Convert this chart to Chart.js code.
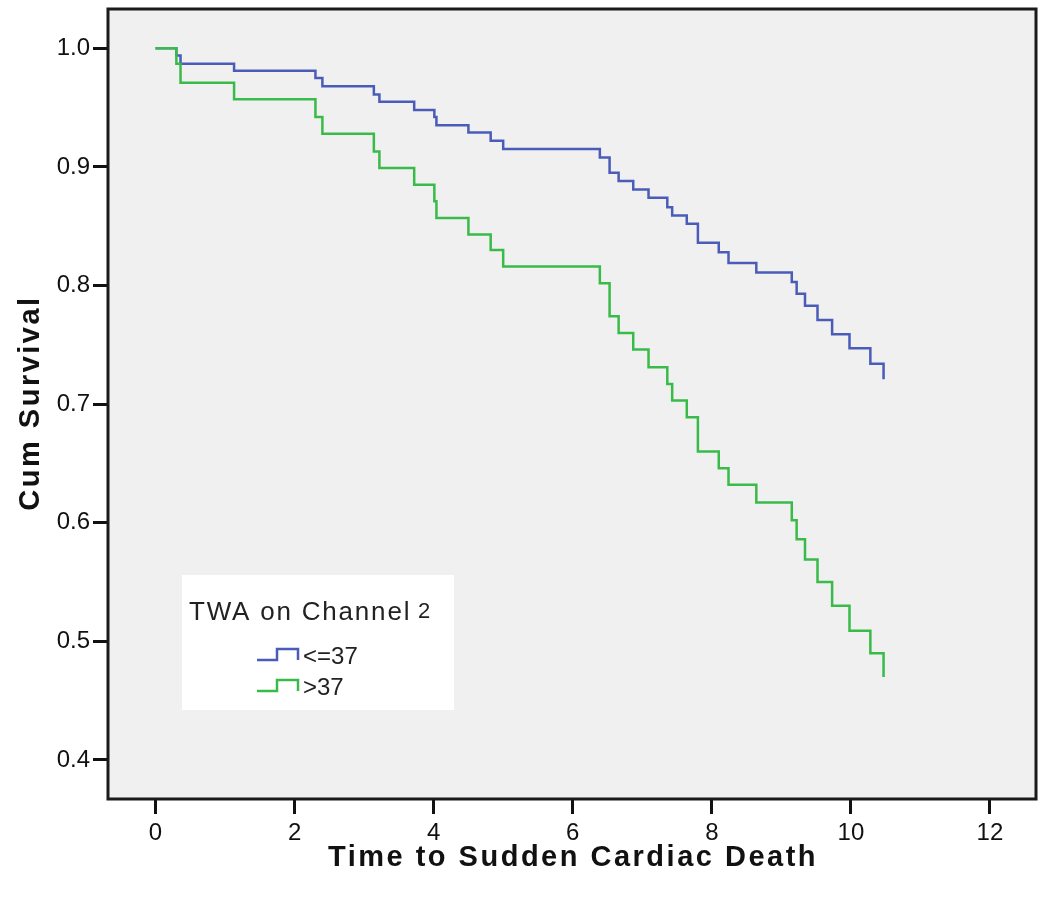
<!DOCTYPE html>
<html>
<head>
<meta charset="utf-8">
<script src="https://cdn.jsdelivr.net/npm/chart.js@4.4.1/dist/chart.umd.min.js"></script>
<style>
  body { margin: 0; background: #fff; }
  canvas { display: block; }
</style>
</head>
<body>
<canvas id="kmChart" width="1050" height="912"></canvas>
<script>
// event times (years) - both groups step at the same times
const times = [0, 0.30, 0.36, 1.13, 2.30, 2.40, 3.14, 3.22, 3.72, 4.01, 4.04, 4.50, 4.82, 5.00,
  6.39, 6.53, 6.66, 6.87, 7.09, 7.36, 7.43, 7.64, 7.80, 8.10, 8.24, 8.64, 9.15, 9.22, 9.34,
  9.52, 9.73, 9.98, 10.28, 10.47];

// cum survival, TWA <=37
const survLow = [1.0, 0.994, 0.987, 0.981, 0.975, 0.968, 0.961, 0.955, 0.948, 0.942, 0.935, 0.929, 0.922, 0.915,
  0.908, 0.895, 0.888, 0.881, 0.874, 0.866, 0.859, 0.852, 0.836, 0.828, 0.819, 0.811, 0.803, 0.793, 0.783,
  0.771, 0.759, 0.747, 0.734, 0.721];

// cum survival, TWA >37
const survHigh = [1.0, 0.987, 0.971, 0.957, 0.942, 0.928, 0.913, 0.899, 0.885, 0.871, 0.857, 0.843, 0.830, 0.816,
  0.802, 0.774, 0.760, 0.746, 0.731, 0.717, 0.703, 0.689, 0.660, 0.646, 0.632, 0.617, 0.602, 0.586, 0.569,
  0.550, 0.530, 0.509, 0.490, 0.470];

const groupLabels = ["<=37", ">37"];
const groupColors = ["#4a5cb8", "#38bb48"];
const xTicks = [0, 2, 4, 6, 8, 10, 12];
const yTicks = [0.4, 0.5, 0.6, 0.7, 0.8, 0.9, 1.0];

const FONT = "'Liberation Sans', Arial, sans-serif";

// grey plot area, frame and axis titles
const framePlugin = {
  id: "frame",
  beforeDraw(chart) {
    const a = chart.chartArea, ctx = chart.ctx;
    ctx.save();
    ctx.fillStyle = "#f0f0f0";
    ctx.fillRect(a.left, a.top, a.right - a.left, a.bottom - a.top);
    ctx.restore();
  },
  afterDraw(chart) {
    const a = chart.chartArea, ctx = chart.ctx;
    ctx.save();
    ctx.strokeStyle = "#1a1a1a";
    ctx.lineWidth = 3;
    ctx.strokeRect(a.left, a.top, a.right - a.left, a.bottom - a.top);

    // titles are drawn here so the wide SPSS letter spacing can be used
    ctx.fillStyle = "#111";
    ctx.font = "bold 29px " + FONT;
    ctx.letterSpacing = "2.5px";
    ctx.textAlign = "center";
    ctx.textBaseline = "middle";
    ctx.fillText("Time to Sudden Cardiac Death", (a.left + a.right) / 2 + 1, 858);
    ctx.translate(31, (a.top + a.bottom) / 2);
    ctx.rotate(-Math.PI / 2);
    ctx.fillText("Cum Survival", 1, 0);
    ctx.restore();
  }
};

// SPSS style legend box inside the plot
const legendBox = {
  id: "legendBox",
  afterDatasetsDraw(chart) {
    const ctx = chart.ctx;
    ctx.save();
    ctx.fillStyle = "#ffffff";
    ctx.fillRect(182, 575, 272, 135);
    ctx.fillStyle = "#222";
    ctx.font = "26px " + FONT;
    ctx.letterSpacing = "1.8px";
    ctx.textBaseline = "alphabetic";
    ctx.fillText("TWA on Channel", 189, 620);
    ctx.font = "22px " + FONT;
    ctx.letterSpacing = "0px";
    ctx.fillText("2", 418, 618);
    const rows = [660, 691];
    rows.forEach((y, i) => {
      ctx.strokeStyle = groupColors[i];
      ctx.lineWidth = 2.5;
      ctx.beginPath();
      ctx.moveTo(257, y);
      ctx.lineTo(277, y);
      ctx.lineTo(277, y - 11);
      ctx.lineTo(298, y - 11);
      ctx.lineTo(298, y);
      ctx.stroke();
      ctx.fillStyle = "#222";
      ctx.font = "24px " + FONT;
      ctx.textBaseline = "middle";
      ctx.fillText(groupLabels[i], 303, y - 3);
    });
    ctx.restore();
  }
};

new Chart("kmChart", {
  type: "line",
  data: {
    datasets: [
      {
        label: groupLabels[1],
        data: times.map((t, i) => ({ x: t, y: survHigh[i] })),
        borderColor: groupColors[1],
        borderWidth: 2.5,
        stepped: "before",
        pointRadius: 0,
        fill: false,
        order: 0
      },
      {
        label: groupLabels[0],
        data: times.map((t, i) => ({ x: t, y: survLow[i] })),
        borderColor: groupColors[0],
        borderWidth: 2.5,
        stepped: "before",
        pointRadius: 0,
        fill: false,
        order: 1
      }
    ]
  },
  options: {
    responsive: false,
    animation: false,
    devicePixelRatio: 1,
    layout: { autoPadding: false, padding: { top: 9, right: 14, left: 0, bottom: 0 } },
    plugins: {
      legend: { display: false },
      tooltip: { enabled: false }
    },
    scales: {
      x: {
        type: "linear",
        min: -0.683,
        max: 12.662,
        afterFit(scale) {
          scale.height = 113;
          scale.paddingLeft = 0;
          scale.paddingRight = 0;
        },
        afterBuildTicks(scale) { scale.ticks = xTicks.map(v => ({ value: v })); },
        border: { display: false },
        grid: { drawOnChartArea: false, drawTicks: true, tickLength: 15, tickWidth: 3, tickColor: "#111" },
        ticks: {
          padding: 5,
          color: "#111",
          font: { family: FONT, size: 24 },
          callback: v => String(v)
        },
        title: { display: false }
      },
      y: {
        type: "linear",
        min: 0.3671,
        max: 1.0331,
        afterFit(scale) {
          scale.width = 108;
          scale.paddingTop = 0;
          scale.paddingBottom = 0;
        },
        afterBuildTicks(scale) { scale.ticks = yTicks.map(v => ({ value: v })); },
        border: { display: false },
        grid: { drawOnChartArea: false, drawTicks: true, tickLength: 15, tickWidth: 3, tickColor: "#111" },
        ticks: {
          padding: 3,
          color: "#111",
          font: { family: FONT, size: 24 },
          callback: v => v.toFixed(1)
        },
        title: { display: false }
      }
    }
  },
  plugins: [framePlugin, legendBox]
});
</script>
</body>
</html>
